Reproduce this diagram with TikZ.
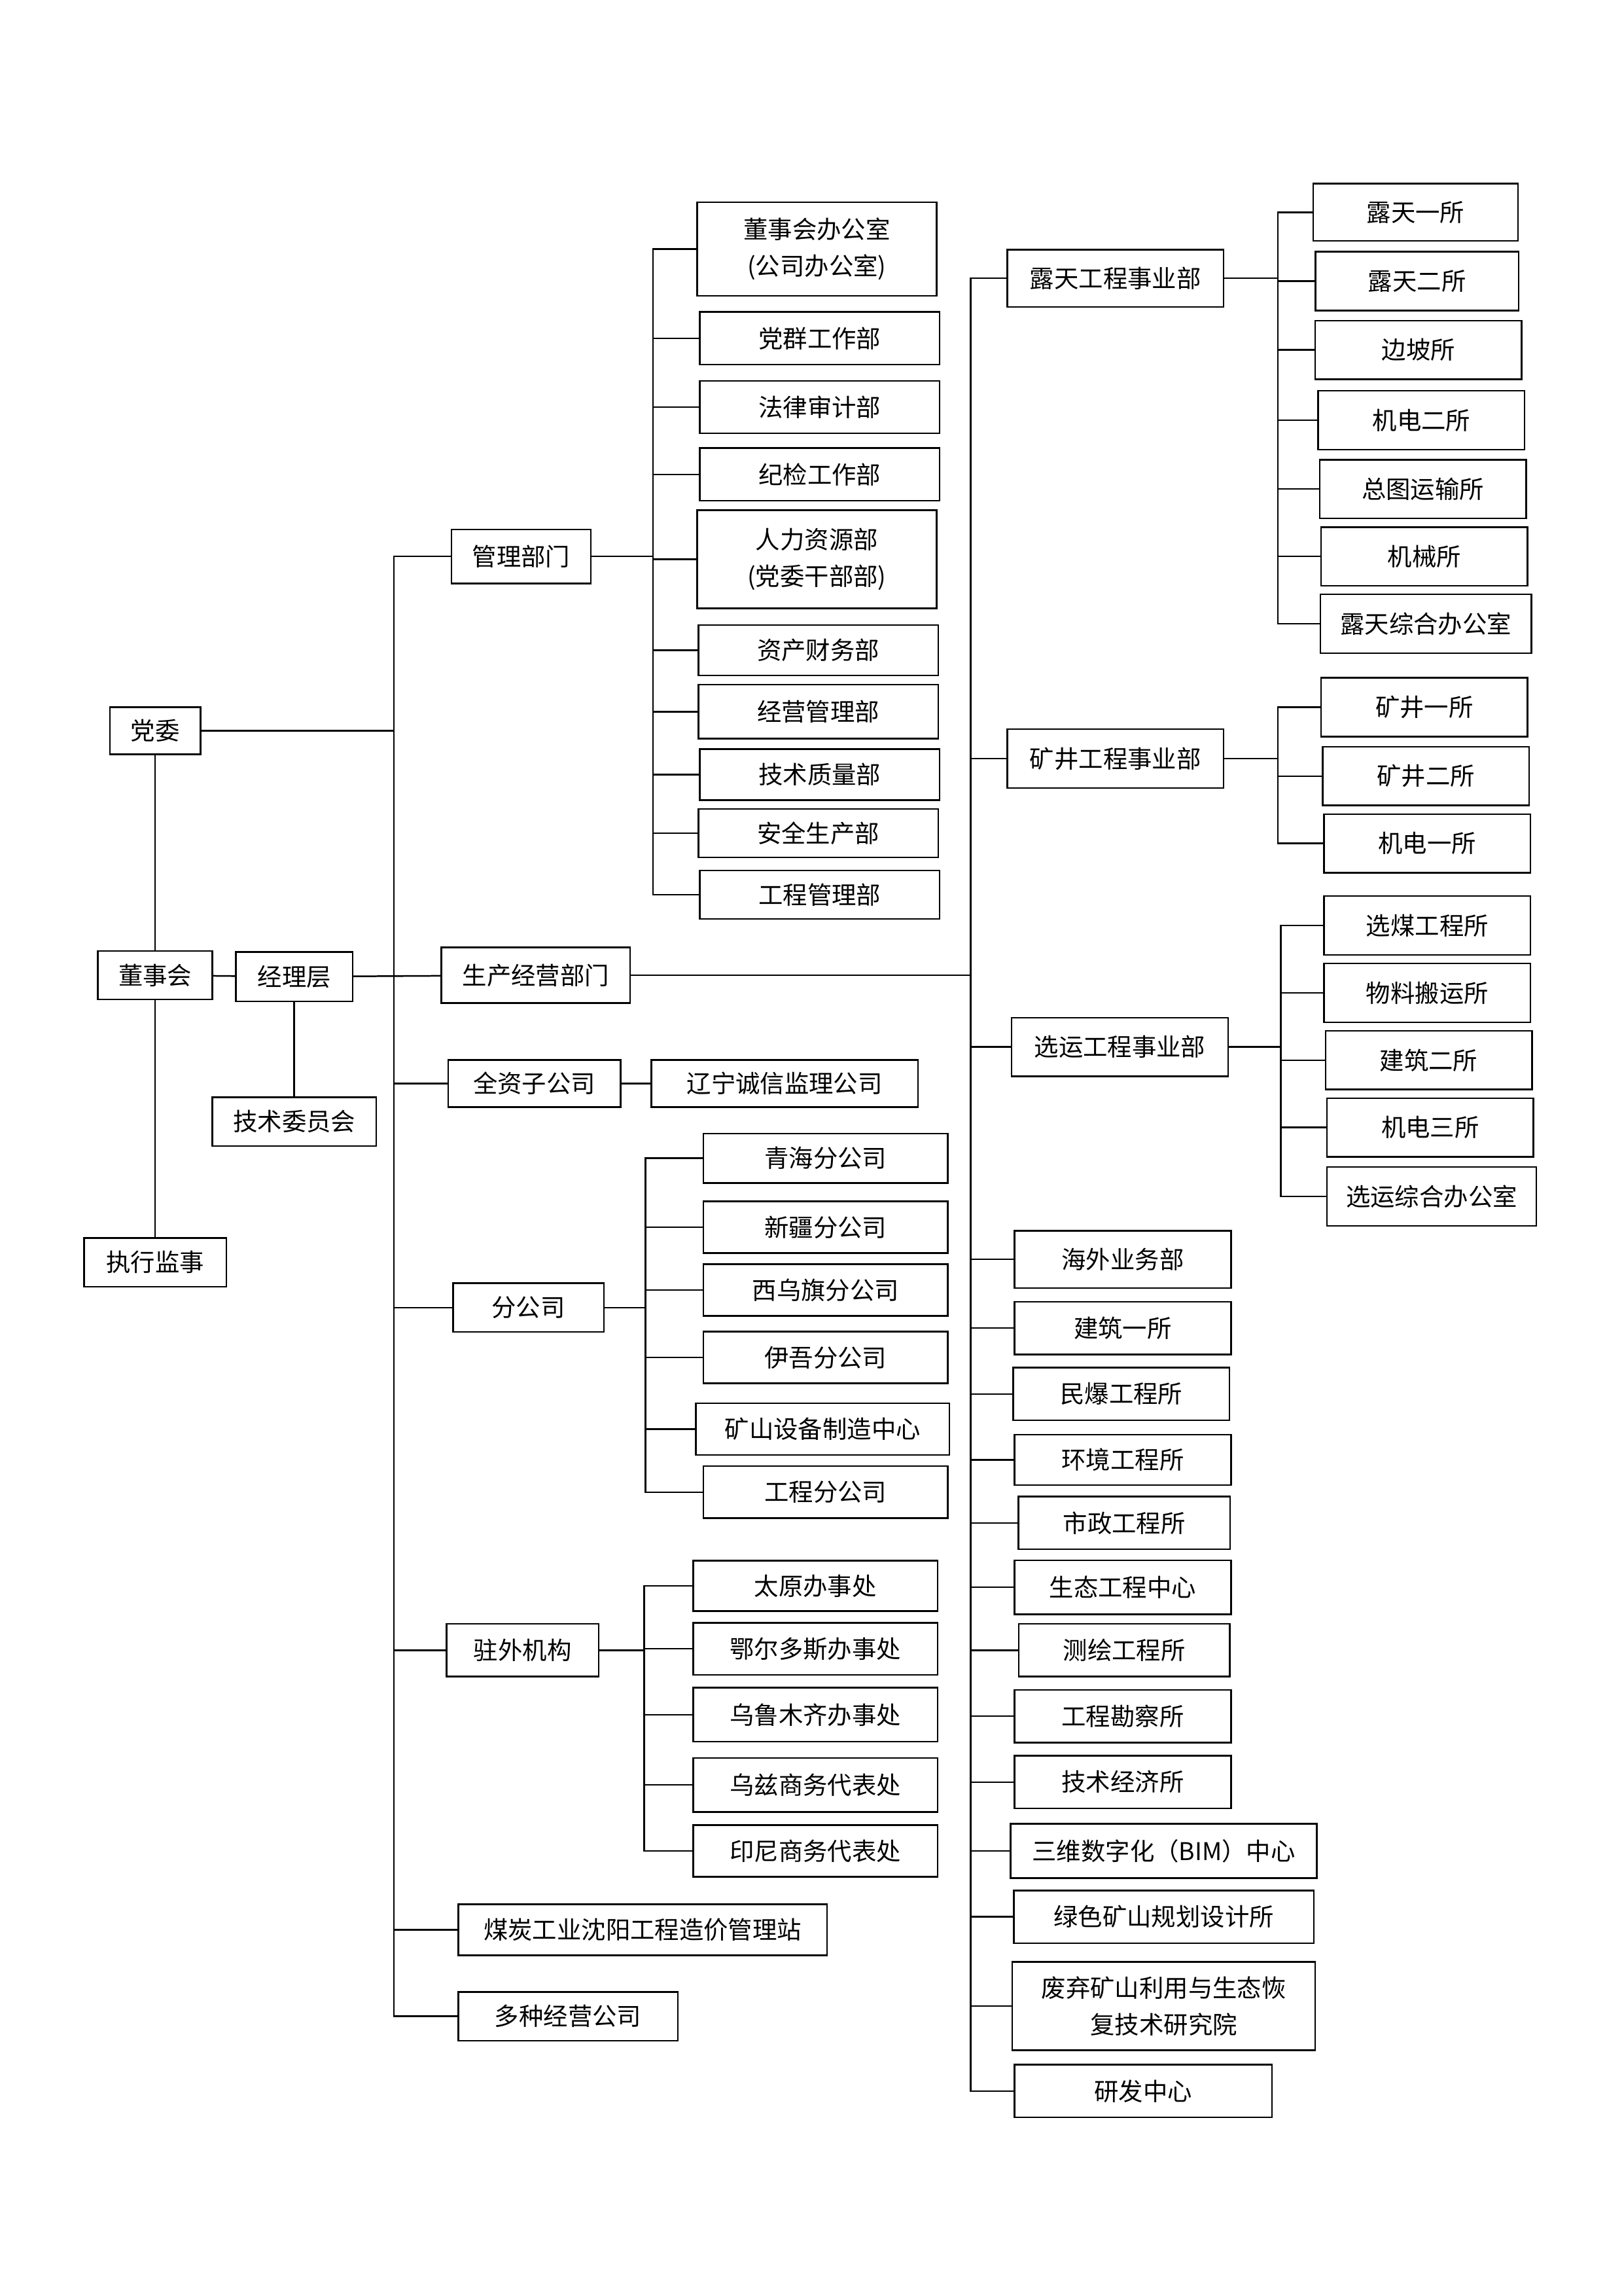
\documentclass[tikz,border=0pt]{standalone}
\usepackage{fontspec}
\setmainfont{Noto Sans CJK SC}
\usetikzlibrary{positioning,calc}

\begin{document}
\begin{tikzpicture}[x=0.018936cm, y=-0.018936cm]
% Define styles
\tikzstyle{box} = [rectangle, draw, line width=0.6pt, font=\fontsize{9}{13.5}\selectfont, align=center, inner sep=1pt]
\tikzstyle{deptbox} = [box, minimum width=3.1cm, minimum height=0.68cm]
\tikzstyle{branchbox} = [box, minimum width=3.16cm, minimum height=0.67cm]
\tikzstyle{unitbox} = [box, minimum width=2.8cm, minimum height=0.68cm]
\tikzstyle{subbox} = [box, minimum width=2.67cm, minimum height=0.76cm]
\tikzstyle{line} = [line width=0.6pt]

\useasboundingbox (0,0) rectangle (1109,1568);

% Top levels
\node[box, minimum width=1.17cm, minimum height=0.61cm] (party) at (106,499) {党委};
\node[box, minimum width=1.48cm, minimum height=0.63cm] (board) at (106,666) {董事会};
\node[box, minimum width=1.51cm, minimum height=0.64cm] (manager) at (201,667) {经理层};
\node[box, minimum width=2.12cm, minimum height=0.63cm] (techcomm) at (201,766) {技术委员会};
\node[box, minimum width=1.84cm, minimum height=0.63cm] (supervisor) at (106,862) {执行监事};

% Second level
\node[box, minimum width=1.8cm, minimum height=0.7cm] (mgmt) at (356,380) {管理部门};
\node[box, minimum width=2.44cm, minimum height=0.72cm] (prod) at (366,666) {生产经营部门};
\node[box, minimum width=2.23cm, minimum height=0.61cm] (wholly) at (365,740) {全资子公司};
\node[box, minimum width=1.95cm, minimum height=0.63cm] (branch) at (361,893) {分公司};
\node[box, minimum width=1.97cm, minimum height=0.68cm] (outpost) at (357,1127) {驻外机构};
\node[box, minimum width=4.77cm, minimum height=0.66cm] (coststation) at (439,1318) {煤炭工业沈阳工程造价管理站};
\node[box, minimum width=2.84cm, minimum height=0.63cm] (diverse) at (388,1377) {多种经营公司};
\node[box, minimum width=3.45cm, minimum height=0.61cm] (liaoning) at (536,740) {辽宁诚信监理公司};

% Management departments
\node[deptbox, minimum height=1.21cm] (office) at (558,170) {董事会办公室\\(公司办公室)};
\node[deptbox] (partywork) at (560,231) {党群工作部};
\node[deptbox] (legal) at (560,278) {法律审计部};
\node[deptbox] (discipline) at (560,324) {纪检工作部};
\node[deptbox, minimum height=1.27cm] (hr) at (558,382) {人力资源部\\(党委干部部)};
\node[deptbox, minimum height=0.65cm] (finance) at (559,444) {资产财务部};
\node[deptbox, minimum height=0.7cm] (operation) at (559,486) {经营管理部};
\node[deptbox, minimum height=0.66cm] (techqual) at (560,529) {技术质量部};
\node[deptbox, minimum height=0.63cm] (safety) at (559,569) {安全生产部};
\node[deptbox, minimum height=0.63cm] (engmgmt) at (560,611) {工程管理部};

% Branches
\node[branchbox, minimum height=0.64cm] (qinghai) at (564,791) {青海分公司};
\node[branchbox] (xinjiang) at (564,838) {新疆分公司};
\node[branchbox] (xiwu) at (564,881) {西乌旗分公司};
\node[branchbox] (yiwu) at (564,927) {伊吾分公司};
\node[branchbox, minimum width=3.28cm] (equip) at (562,976) {矿山设备制造中心};
\node[branchbox] (engbranch) at (564,1019) {工程分公司};

% Offices outside
\node[branchbox, minimum height=0.65cm] (taiyuan) at (557,1083) {太原办事处};
\node[branchbox] (ordos) at (557,1126) {鄂尔多斯办事处};
\node[branchbox, minimum height=0.7cm] (urumqi) at (557,1171) {乌鲁木齐办事处};
\node[branchbox, minimum height=0.7cm] (uzbek) at (557,1219) {乌兹商务代表处};
\node[branchbox] (indonesia) at (557,1264) {印尼商务代表处};

% Production units
\node[unitbox, minimum height=0.74cm] (opencast) at (762,190) {露天工程事业部};
\node[unitbox, minimum height=0.76cm] (mine) at (762,518) {矿井工程事业部};
\node[unitbox, minimum height=0.76cm] (haul) at (765,715) {选运工程事业部};
\node[unitbox, minimum height=0.74cm] (overseas) at (767,860) {海外业务部};
\node[unitbox] (build1) at (767,907) {建筑一所};
\node[unitbox] (blast) at (766,952) {民爆工程所};
\node[unitbox, minimum height=0.65cm] (env) at (767,997) {环境工程所};
\node[unitbox, minimum width=2.74cm] (municipal) at (768,1040) {市政工程所};
\node[unitbox, minimum height=0.7cm] (eco) at (767,1084) {生态工程中心};
\node[unitbox, minimum width=2.73cm] (survey) at (768,1127) {测绘工程所};
\node[unitbox] (geotech) at (767,1172) {工程勘察所};
\node[unitbox] (techecon) at (767,1217) {技术经济所};
\node[unitbox, minimum width=3.96cm, minimum height=0.7cm] (bim) at (795,1264) {三维数字化（BIM）中心};
\node[unitbox, minimum width=3.88cm] (green) at (795,1309) {绿色矿山规划设计所};
\node[unitbox, minimum width=3.92cm, minimum height=1.14cm] (restore) at (795,1370) {废弃矿山利用与生态恢\\复技术研究院};
\node[unitbox, minimum width=3.33cm] (rnd) at (781,1428) {研发中心};

% Opencast institutes
\node[subbox, minimum width=2.65cm, minimum height=0.74cm] (open1) at (967,145) {露天一所};
\node[subbox, minimum width=2.63cm] (open2) at (968,192) {露天二所};
\node[subbox] (slope) at (969,239) {边坡所};
\node[subbox] (elec2) at (971,287) {机电二所};
\node[subbox] (transport) at (972,334) {总图运输所};
\node[subbox] (machine) at (973,380) {机械所};
\node[subbox, minimum width=2.73cm] (openoffice) at (974,426) {露天综合办公室};

% Mine institutes
\node[subbox] (mine1) at (973,483) {矿井一所};
\node[subbox] (mine2) at (974,530) {矿井二所};
\node[subbox] (elec1) at (975,576) {机电一所};

% Haulage institutes
\node[subbox] (coal) at (975,632) {选煤工程所};
\node[subbox] (material) at (975,678) {物料搬运所};
\node[subbox] (build2) at (976,724) {建筑二所};
\node[subbox] (elec3) at (977,770) {机电三所};
\node[subbox, minimum width=2.71cm] (haulofffice) at (978,817) {选运综合办公室};

% Junctions
\coordinate (trunk) at (269,666);
\coordinate (mgmtbus) at (446,380);
\coordinate (branchbus) at (441,893);
\coordinate (outpostbus) at (440,1127);
\coordinate (prodbus) at (663,666);
\coordinate (openbus) at (873,190);
\coordinate (minebus) at (873,518);
\coordinate (haulbus) at (875,715);

% Connections
\draw[line] (party) -- (board);
\draw[line] (board) -- (supervisor);
\draw[line] (board) -- (manager);
\draw[line] (manager) -- (techcomm);
\draw[line] (manager) -- (prod);
\draw[line] (party.east) -| (trunk);
\draw[line] (trunk) |- (mgmt.west);
\draw[line] (trunk) |- (wholly.west);
\draw[line] (trunk) |- (branch.west);
\draw[line] (trunk) |- (outpost.west);
\draw[line] (trunk) |- (coststation.west);
\draw[line] (trunk) |- (diverse.west);
\draw[line] (wholly) -- (liaoning);

\draw[line] (mgmt) -- (mgmtbus);
\draw[line] (mgmtbus) |- (office.west);
\draw[line] (mgmtbus) |- (partywork.west);
\draw[line] (mgmtbus) |- (legal.west);
\draw[line] (mgmtbus) |- (discipline.west);
\draw[line] (mgmtbus) |- (hr.west);
\draw[line] (mgmtbus) |- (finance.west);
\draw[line] (mgmtbus) |- (operation.west);
\draw[line] (mgmtbus) |- (techqual.west);
\draw[line] (mgmtbus) |- (safety.west);
\draw[line] (mgmtbus) |- (engmgmt.west);

\draw[line] (branch) -- (branchbus);
\draw[line] (branchbus) |- (qinghai.west);
\draw[line] (branchbus) |- (xinjiang.west);
\draw[line] (branchbus) |- (xiwu.west);
\draw[line] (branchbus) |- (yiwu.west);
\draw[line] (branchbus) |- (equip.west);
\draw[line] (branchbus) |- (engbranch.west);

\draw[line] (outpost) -- (outpostbus);
\draw[line] (outpostbus) |- (taiyuan.west);
\draw[line] (outpostbus) |- (ordos.west);
\draw[line] (outpostbus) |- (urumqi.west);
\draw[line] (outpostbus) |- (uzbek.west);
\draw[line] (outpostbus) |- (indonesia.west);

\draw[line] (prod) -- (prodbus);
\draw[line] (prodbus) |- (opencast.west);
\draw[line] (prodbus) |- (mine.west);
\draw[line] (prodbus) |- (haul.west);
\draw[line] (prodbus) |- (overseas.west);
\draw[line] (prodbus) |- (build1.west);
\draw[line] (prodbus) |- (blast.west);
\draw[line] (prodbus) |- (env.west);
\draw[line] (prodbus) |- (municipal.west);
\draw[line] (prodbus) |- (eco.west);
\draw[line] (prodbus) |- (survey.west);
\draw[line] (prodbus) |- (geotech.west);
\draw[line] (prodbus) |- (techecon.west);
\draw[line] (prodbus) |- (bim.west);
\draw[line] (prodbus) |- (green.west);
\draw[line] (prodbus) |- (restore.west);
\draw[line] (prodbus) |- (rnd.west);

\draw[line] (opencast) -- (openbus);
\draw[line] (openbus) |- (open1.west);
\draw[line] (openbus) |- (open2.west);
\draw[line] (openbus) |- (slope.west);
\draw[line] (openbus) |- (elec2.west);
\draw[line] (openbus) |- (transport.west);
\draw[line] (openbus) |- (machine.west);
\draw[line] (openbus) |- (openoffice.west);

\draw[line] (mine) -- (minebus);
\draw[line] (minebus) |- (mine1.west);
\draw[line] (minebus) |- (mine2.west);
\draw[line] (minebus) |- (elec1.west);

\draw[line] (haul) -- (haulbus);
\draw[line] (haulbus) |- (coal.west);
\draw[line] (haulbus) |- (material.west);
\draw[line] (haulbus) |- (build2.west);
\draw[line] (haulbus) |- (elec3.west);
\draw[line] (haulbus) |- (haulofffice.west);

\end{tikzpicture}
\end{document}
